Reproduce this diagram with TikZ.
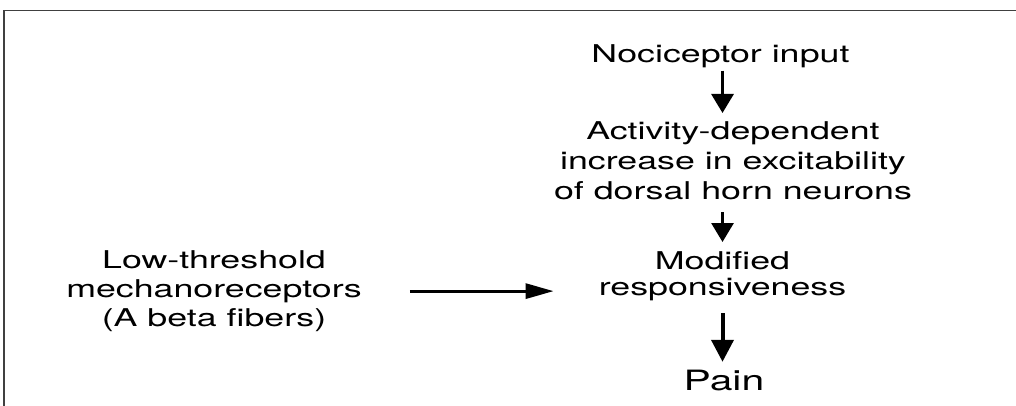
\documentclass[tikz,border=0pt]{standalone}
\usepackage{fontspec}
\setmainfont{TeX Gyre Heros}[FakeStretch=1.46]
\usetikzlibrary{arrows.meta}
\begin{document}
\begin{tikzpicture}[x=1pt,y=-1pt,
  txt/.style={inner sep=0pt, align=center, font=\fontsize{24.5}{30}\selectfont},
  varr/.style={line width=3pt, -{Triangle[length=19pt,width=22pt]}},
  varrbig/.style={line width=4pt, -{Triangle[length=22pt,width=22pt]}},
  harr/.style={line width=3pt, -{Triangle[length=28pt,width=15pt]}},
  framel/.style={line width=1.4pt, draw=black!75}]
\useasboundingbox (0,0) rectangle (1016,406);
\draw[framel] (4,406) -- (4,10.5) -- (1016,10.5);
\node[txt, anchor=base] (noc) at (720.5,63) {Nociceptor input};
\node[txt, anchor=north, font=\fontsize{24.5}{30}\selectfont] (act) at (733,121.4) {Activity-dependent\\increase in excitability\\of dorsal horn neurons};
\node[txt, anchor=north, font=\fontsize{24.5}{26}\selectfont] (mod) at (722.5,251.4) {Modified\\responsiveness};
\node[txt, anchor=north, font=\fontsize{24.5}{29}\selectfont] (low) at (214,250.4) {Low-threshold\\mechanoreceptors\\(A beta fibers)};
\node[txt, anchor=base, font=\fontsize{28}{34}\selectfont] (pain) at (724,390) {Pain};
\draw[varr, shorten <=2pt, shorten >=8.4pt] (noc.south -| mod) -- (act.north -| mod);
\draw[varr, shorten <=12pt, shorten >=9.4pt] (act.south -| mod) -- (mod.north);
\draw[varrbig, shorten <=12pt, shorten >=7.6pt] (mod.south) -- (pain.north -| mod);
\draw[harr, shorten <=48pt, shorten >=45pt] (low.east) -- (low.east -| mod.west);
\end{tikzpicture}
\end{document}
